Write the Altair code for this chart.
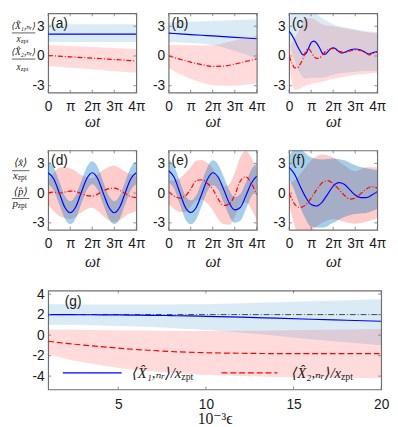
import altair as alt
import pandas as pd

# ---------------- data ----------------
PI_TICKS = [0, 1, 2, 3, 4]
PI_LABELS = ["0", "π", "2π", "3π", "4π"]
ROW_Y_TICKS = [-3, 0, 3]
G_X_TICKS = [5, 10, 15, 20]
G_Y_TICKS = [-4, -2, 0, 2, 4]

# (a)
A_T = [0, 1, 2, 3, 4]
A_BLUE = [2.2, 2.2, 2.2, 2.2, 2.2]
A_BLUE_LO = [1.4, 1.4, 1.4, 1.4, 1.4]
A_BLUE_HI = [3.2, 3.2, 3.2, 3.2, 3.2]
A_RED = [0.05, -0.09, -0.22, -0.36, -0.5]
A_RED_LO = [-1.0, -1.18, -1.35, -1.53, -1.7]
A_RED_HI = [1.1, 1.0, 0.9, 0.8, 0.7]

# (b)
B_T = [0, 0.5, 1, 1.5, 2, 2.5, 3, 3.5, 4]
B_BLUE = [2.3, 2.23, 2.16, 2.09, 2.02, 1.95, 1.88, 1.81, 1.74]
B_BLUE_LO = [1.4, 1.37, 1.3, 1.22, 1.1, 0.85, 0.5, 0.15, -0.25]
B_BLUE_HI = [3.38, 3.42, 3.46, 3.5, 3.55, 3.58, 3.62, 3.66, 3.7]
B_RED = [0.02, -0.32, -0.62, -0.88, -1.05, -1.02, -0.82, -0.55, -0.3]
B_RED_LO = [-1.2, -1.85, -2.3, -2.7, -2.95, -3.0, -3.0, -2.9, -2.75]
B_RED_HI = [1.14, 1.1, 1.07, 1.06, 1.07, 1.3, 1.57, 1.8, 2.06]

# (c)
C_BLUE_T = [0, 0.125, 0.25, 0.375, 0.5, 0.625, 0.75, 0.875, 1.0, 1.125, 1.25, 1.375, 1.5, 1.625,
            1.75, 1.875, 2.0, 2.125, 2.25, 2.375, 2.5, 2.75, 3.0, 3.25, 3.5, 3.625, 3.75, 4.0]
C_BLUE = [2.5, 2.1, 1.6, 1.0, 0.5, 0.12, 0.2, 0.75, 1.35, 1.5, 1.3, 0.85, 0.3, 0.15,
          0.4, 0.7, 0.82, 0.7, 0.45, 0.3, 0.35, 0.6, 0.7, 0.6, 0.3, 0.2, 0.3, 0.45]
C_RED_T = [0, 0.125, 0.25, 0.375, 0.5, 0.625, 0.75, 0.875, 1.0, 1.125, 1.25, 1.375, 1.5,
           1.625, 1.75, 2.0, 2.25, 2.5, 2.75, 3.0, 3.25, 3.5, 3.625, 3.75, 4.0]
C_RED = [0.0, -0.7, -1.2, -1.2, -0.85, -0.3, 0.45, 0.75, 0.4, -0.05, -0.25, -0.2, 0.05,
         0.4, 0.65, 0.75, 0.5, 0.35, 0.5, 0.6, 0.55, 0.3, 0.1, 0.2, 0.4]
C_BAND_T = [0, 0.25, 0.5, 0.75, 1.0, 1.5, 2.0, 2.5, 3.0, 3.5, 4.0]
C_BLUE_LO = [1.4, -0.5, -1.8, -2.3, -2.2, -2.2, -1.9, -1.7, -1.6, -1.5, -1.5]
C_BLUE_HI = [3.8, 4.5, 4.5, 4.5, 4.5, 3.8, 3.2, 2.9, 2.7, 2.5, 2.4]
C_RED_LO = [-0.9, -3.4, -3.3, -3.0, -2.8, -2.6, -2.3, -2.1, -1.9, -1.8, -1.7]
C_RED_HI = [0.8, 1.8, 2.8, 3.8, 3.8, 3.2, 3.0, 2.8, 2.6, 2.4, 2.3]

# (d)
D_T = [0, 0.25, 0.5, 0.75, 1, 1.25, 1.5, 1.75, 2, 2.25, 2.5, 2.75, 3, 3.25, 3.5, 3.75, 4]
D_BLUE = [2.05, 1.45, 0.05, -1.4, -1.98, -1.4, 0.05, 1.45, 2.05, 1.45, 0.0, -1.4, -1.98, -1.4, 0.05, 1.45, 2.05]
D_BLUE_LO = [0.9, 0.3, -1.1, -2.55, -3.13, -2.55, -1.1, 0.3, 0.9, 0.3, -1.15, -2.55, -3.13, -2.55, -1.1, 0.3, 0.9]
D_BLUE_HI = [3.2, 2.6, 1.2, -0.25, -0.83, -0.25, 1.2, 2.6, 3.2, 2.6, 1.15, -0.25, -0.83, -0.25, 1.2, 2.6, 3.2]
D_RED = [0.05, 0.1, 0.0, 0.1, 0.2, 0.15, -0.05, -0.25, -0.3, -0.1, 0.2, 0.45, 0.5, 0.3, -0.05, -0.35, -0.45]
D_RED_LO = [-1.14, -1.8, -2.3, -2.5, -2.6, -2.4, -1.96, -1.6, -1.47, -1.8, -2.3, -2.75, -2.95, -2.75, -2.3, -2.0, -1.8]
D_RED_HI = [1.17, 2.0, 2.56, 2.6, 2.5, 2.2, 1.83, 1.6, 1.5, 1.9, 2.33, 2.65, 2.76, 2.5, 2.16, 1.9, 1.67]

# (e)
E_T = D_T
E_BLUE = [2.25, 1.6, 0.1, -1.4, -1.95, -1.45, -0.1, 1.35, 2.05, 1.6, 0.35, -1.0, -1.7, -1.45, -0.3, 1.0, 1.7]
E_BLUE_LO = [1.1, 0.45, -1.05, -2.6, -3.15, -2.65, -1.3, 0.15, 0.8, 0.35, -0.95, -2.3, -3.0, -2.8, -1.65, -0.35, 0.35]
E_BLUE_HI = [3.4, 2.75, 1.25, -0.2, -0.75, -0.25, 1.1, 2.55, 3.3, 2.85, 1.65, 0.3, -0.4, -0.1, 1.05, 2.35, 3.05]
E_RED = [0.15, -0.3, -0.5, -0.3, 0.4, 1.25, 1.35, 1.0, 0.4, -0.6, -1.25, -1.1, -0.2, 1.2, 1.65, 1.0, -0.15]
E_RED_LO = [-1.1, -1.6, -1.9, -1.9, -1.4, -0.75, -0.65, -1.05, -1.7, -2.6, -3.15, -3.2, -2.4, -1.2, -0.95, -1.6, -2.75]
E_RED_HI = [1.2, 1.3, 1.5, 2.0, 2.6, 3.25, 3.35, 3.05, 2.5, 1.5, 0.65, 0.9, 2.0, 3.6, 4.25, 3.6, 2.45]

# (f)
F_T = D_T
F_BLUE = [2.6, 1.9, 0.7, -0.4, -1.15, -1.3, -0.9, -0.1, 0.7, 1.05, 0.9, 0.35, -0.2, -0.45, -0.45, -0.2, 0.15]
F_RED = [0.0, -1.1, -1.45, -1.2, -0.5, 0.35, 1.05, 1.25, 0.95, 0.4, -0.2, -0.6, -0.5, -0.05, 0.4, 0.65, 0.5]
F_BAND_T = [0, 0.25, 0.5, 0.75, 1.0, 1.5, 2.0, 2.5, 3.0, 3.5, 4.0]
F_BLUE_LO = [1.4, 0.2, -1.4, -2.6, -3.4, -3.5, -3.0, -2.4, -2.1, -2.0, -1.6]
F_BLUE_HI = [3.7, 4.4, 4.4, 4.0, 3.6, 3.4, 3.5, 3.3, 2.8, 2.5, 2.3]
F_RED_LO = [-1.0, -3.3, -4.2, -4.2, -3.8, -3.0, -2.6, -2.9, -3.1, -2.9, -2.5]
F_RED_HI = [1.0, 1.3, 1.9, 2.6, 3.3, 3.9, 3.6, 2.8, 2.2, 2.6, 2.6]

# (g)
G_EPS = [1, 2, 3, 4, 5, 6, 7, 8, 9, 10, 12, 14, 16, 18, 20]
G_BLUE = [2.0, 2.0, 1.99, 1.98, 1.97, 1.95, 1.93, 1.9, 1.87, 1.83, 1.75, 1.65, 1.55, 1.45, 1.35]
G_BLUE_LO = [1.0, 1.0, 0.98, 0.95, 0.9, 0.85, 0.78, 0.7, 0.6, 0.5, 0.25, -0.05, -0.4, -0.7, -1.0]
G_BLUE_HI = [3.0, 3.0, 2.99, 2.99, 2.98, 2.98, 2.98, 2.99, 3.0, 3.02, 3.1, 3.2, 3.3, 3.4, 3.5]
G_RED = [-0.6, -0.8, -0.97, -1.12, -1.27, -1.4, -1.5, -1.6, -1.67, -1.72, -1.77, -1.8, -1.8, -1.8, -1.8]
G_RED_LO = [-1.85, -2.3, -2.65, -2.95, -3.2, -3.4, -3.55, -3.68, -3.8, -3.9, -4.0, -4.08, -4.12, -4.15, -4.2]
G_RED_HI = [0.55, 0.52, 0.5, 0.48, 0.46, 0.44, 0.42, 0.4, 0.4, 0.4, 0.42, 0.46, 0.5, 0.55, 0.6]
G_REF_EPS = [1, 20]
G_REF = [2.0, 2.0]

# ---------------- style ----------------
SANS = "Liberation Sans"
SERIF = "Liberation Serif, DejaVu Serif"
INK = "#1a1a1a"
FRAME = "#707070"
BLUE = "#0000ff"
RED = "#ff0000"
FILL_B = "#0072bd"
FILL_R = "#ff0000"
DUMMY = pd.DataFrame({"d": [0]})
W, H = 90, 81
GW, GH = 340, 101
LBL = 14

XS = alt.Scale(domain=[0, 4], nice=False, zero=False)
YS = alt.Scale(domain=[-3.7, 4.3], nice=False, zero=False)
GXS = alt.Scale(domain=[1, 20], nice=False, zero=False)
GYS = alt.Scale(domain=[-5.3, 4.35], nice=False, zero=False)

MINUS_EXPR = "datum.value < 0 ? '-' + abs(datum.value) : datum.label"
PI_EXPR = "[" + ",".join("'%s'" % s for s in PI_LABELS) + "][datum.value]"


def x_axis(values, expr, title, title_y, label_pad, title_style):
    kw = dict(values=values, title=title, titleY=title_y, titleBaseline="middle",
              titleFont=SERIF, titleFontStyle=title_style, titleFontSize=16,
              titleFontWeight="normal", titleColor=INK, labelFont=SANS, labelFontSize=LBL,
              labelColor=INK, labelPadding=label_pad, labelBaseline="middle",
              labelFlush=False, labelOverlap=False, ticks=False, tickSize=0,
              domain=False, grid=False)
    if expr:
        kw["labelExpr"] = expr
    return alt.Axis(**kw)


def y_axis(values):
    return alt.Axis(values=values, title=None, labelExpr=MINUS_EXPR, labelFont=SANS,
                    labelFontSize=LBL, labelColor=INK, labelPadding=4, labelFlush=False,
                    labelOverlap=False, ticks=False, tickSize=0, domain=False, grid=False)


def band(t, lo, hi, color, op, interp, xs, ys, xa, ya):
    df = pd.DataFrame({"t": t, "lo": lo, "hi": hi})
    return alt.Chart(df).mark_area(color=color, opacity=op, interpolate=interp, clip=True).encode(
        x=alt.X("t:Q", scale=xs, axis=xa), y=alt.Y("lo:Q", scale=ys, axis=ya), y2="hi:Q")


def line(t, v, color, dash, interp, xs, ys, xa, ya, width=1.2):
    df = pd.DataFrame({"t": t, "v": v})
    kw = dict(color=color, strokeWidth=width, interpolate=interp, clip=True)
    if dash:
        kw["strokeDash"] = dash
    return alt.Chart(df).mark_line(**kw).encode(
        x=alt.X("t:Q", scale=xs, axis=xa), y=alt.Y("v:Q", scale=ys, axis=ya))


def tick_marks(xvals, yvals, w, h, xs, ys, xa, ya, L=3):
    dx = pd.DataFrame({"t": xvals})
    dy = pd.DataFrame({"v": yvals})
    out = []
    for a, b in [(h, h - L), (0, L)]:
        out.append(alt.Chart(dx).mark_rule(color=FRAME, strokeWidth=0.8).encode(
            x=alt.X("t:Q", scale=xs, axis=xa), y=alt.value(a), y2=alt.value(b)))
    for a, b in [(0, L), (w, w - L)]:
        out.append(alt.Chart(dy).mark_rule(color=FRAME, strokeWidth=0.8).encode(
            y=alt.Y("v:Q", scale=ys, axis=ya), x=alt.value(a), x2=alt.value(b)))
    return out


def txt(s, x, y, size, font=SERIF, align="center", baseline="middle", style="normal"):
    return alt.Chart(DUMMY).mark_text(text=s, font=font, fontSize=size, align=align,
                                      baseline=baseline, fontStyle=style, color=INK).encode(
        x=alt.value(x), y=alt.value(y))


def hbar(x1, x2, y, color=INK, width=0.8, dash=None, opacity=1):
    kw = dict(color=color, strokeWidth=width, strokeOpacity=opacity)
    if dash:
        kw["strokeDash"] = dash
    return alt.Chart(DUMMY).mark_rule(**kw).encode(x=alt.value(x1), x2=alt.value(x2), y=alt.value(y))


def vmark(x):
    # invisible marker fixing the left extent of a row
    return alt.Chart(DUMMY).mark_rule(strokeOpacity=0).encode(
        x=alt.value(x), y=alt.value(10), y2=alt.value(20))


def pi_panel(label, bt, blo, bhi, rbt, rlo, rhi, blt, bl, rlt, rl, op_b, op_r, interp, title_y, extras=()):
    xa = x_axis(PI_TICKS, PI_EXPR, "ωt", title_y, 14, "italic")
    ya = y_axis(ROW_Y_TICKS)
    layers = [
        band(rbt, rlo, rhi, FILL_R, op_r, interp, XS, YS, xa, ya),
        band(bt, blo, bhi, FILL_B, op_b, interp, XS, YS, xa, ya),
        line(blt, bl, BLUE, None, interp, XS, YS, xa, ya),
        line(rlt, rl, RED, [5, 2, 1, 2], interp, XS, YS, xa, ya),
    ]
    layers += tick_marks(PI_TICKS, ROW_Y_TICKS, W, H, XS, YS, xa, ya)
    layers.append(txt(label, 3, 4, 14, font=SANS, align="left", baseline="top"))
    layers += list(extras)
    return alt.layer(*layers).properties(width=W, height=H)


def frac(cx, y_num, y_bar, y_den, num, den_var, size, bar_half, den_anchor):
    return [
        txt(num, cx, y_num, size, style="italic"),
        hbar(cx - bar_half, cx + bar_half, y_bar, width=0.7),
        txt(den_var, den_anchor, y_den, size, align="right", style="italic"),
        txt("zpt", den_anchor, y_den + 2, size * 0.68, align="left"),
    ]


a_extras = [vmark(-40), hbar(0, 1, H + 40, opacity=0)]
a_extras += frac(-25, 13.3, 20, 26.5, "⟨X̂₁,ₙᵣ⟩", "x", 9.5, 12, -28)
a_extras += frac(-25, 40, 46.7, 55, "⟨X̂₂,ₙᵣ⟩", "x", 9.5, 12, -28)

d_extras = [vmark(-40)]
d_extras += frac(-28, 13, 20.7, 26.5, "⟨x̂⟩", "x", 11, 9, -31)
d_extras += frac(-28, 42, 49, 55, "⟨p̂⟩", "p", 11, 9, -31)

LIGHT = 0.14
pa = pi_panel("(a)", A_T, A_BLUE_LO, A_BLUE_HI, A_T, A_RED_LO, A_RED_HI, A_T, A_BLUE, A_T, A_RED,
              LIGHT, LIGHT, "linear", 30, a_extras)
pb = pi_panel("(b)", B_T, B_BLUE_LO, B_BLUE_HI, B_T, B_RED_LO, B_RED_HI, B_T, B_BLUE, B_T, B_RED,
              LIGHT, LIGHT, "monotone", 30)
pc = pi_panel("(c)", C_BAND_T, C_BLUE_LO, C_BLUE_HI, C_BAND_T, C_RED_LO, C_RED_HI, C_BLUE_T, C_BLUE,
              C_RED_T, C_RED, LIGHT, LIGHT, "monotone", 30)
pd_ = pi_panel("(d)", D_T, D_BLUE_LO, D_BLUE_HI, D_T, D_RED_LO, D_RED_HI, D_T, D_BLUE, D_T, D_RED,
               0.35, 0.2, "monotone", 32, d_extras)
pe = pi_panel("(e)", E_T, E_BLUE_LO, E_BLUE_HI, E_T, E_RED_LO, E_RED_HI, E_T, E_BLUE, E_T, E_RED,
              0.35, 0.2, "monotone", 32)
pf = pi_panel("(f)", F_BAND_T, F_BLUE_LO, F_BLUE_HI, F_BAND_T, F_RED_LO, F_RED_HI, F_T, F_BLUE,
              F_T, F_RED, 0.35, 0.2, "monotone", 32)

# (g)
gxa = x_axis(G_X_TICKS, None, "10⁻³ϵ", 30, 15, "normal")
gya = y_axis(G_Y_TICKS)
g_layers = [
    band(G_EPS, G_RED_LO, G_RED_HI, FILL_R, LIGHT, "monotone", GXS, GYS, gxa, gya),
    band(G_EPS, G_BLUE_LO, G_BLUE_HI, FILL_B, LIGHT, "monotone", GXS, GYS, gxa, gya),
    line(G_REF_EPS, G_REF, "#404040", [6, 2, 1, 2], "linear", GXS, GYS, gxa, gya, width=1.0),
    line(G_EPS, G_BLUE, BLUE, None, "monotone", GXS, GYS, gxa, gya),
    line(G_EPS, G_RED, RED, [6, 3], "monotone", GXS, GYS, gxa, gya),
]
g_layers += tick_marks(G_X_TICKS, G_Y_TICKS, GW, GH, GXS, GYS, gxa, gya)
g_layers += [
    txt("(g)", 17, 5, 14, font=SANS, align="left", baseline="top"),
    vmark(-40),
    hbar(15, 75, 84, color=BLUE, width=1.2),
    txt("⟨X̂₁,ₙᵣ⟩/x", 136, 84, 15, align="right", style="italic"),
    txt("zpt", 136, 88, 10, align="left"),
    hbar(177, 234, 84, color=RED, width=1.2, dash=[6, 3]),
    txt("⟨X̂₂,ₙᵣ⟩/x", 299, 84, 15, align="right", style="italic"),
    txt("zpt", 299, 88, 10, align="left"),
]
pg = alt.layer(*g_layers).properties(width=GW, height=GH)

row1 = alt.hconcat(pa, pb, pc, spacing=33, bounds="flush")
row2 = alt.hconcat(pd_, pe, pf, spacing=33, bounds="flush")
chart = alt.vconcat(row1, row2, pg, spacing=17).properties(padding=0).configure_view(
    stroke=FRAME, strokeWidth=1.2)

chart.save("out.html", embed_options={"renderer": "svg", "actions": False})
